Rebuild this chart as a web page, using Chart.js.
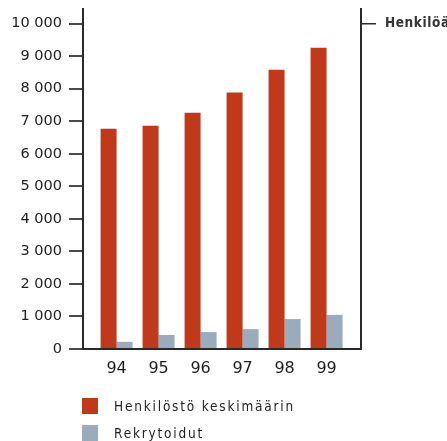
<!DOCTYPE html>
<html lang="fi">
<head>
<meta charset="utf-8">
<script src="https://cdn.jsdelivr.net/npm/chart.js@4/dist/chart.umd.min.js"></script>
<style>
  html, body { margin: 0; padding: 0; background: #fff; }
  #wrap { position: relative; width: 447px; height: 441px; overflow: hidden; }
  #chart { display: block; }
  #legend {
    position: absolute; left: 82px; top: 398px;
    font: 13.5px "DejaVu Sans Condensed", "DejaVu Sans", sans-serif;
    letter-spacing: 1.8px; color: #1e1e1e;
  }
  #legend .item { display: flex; align-items: center; height: 16px; margin-bottom: 11px; }
  #legend .swatch { width: 16px; height: 16px; margin-right: 16px; flex: none; }
</style>
</head>
<body>
<div id="wrap">
  <canvas id="chart" width="447" height="441"></canvas>
  <div id="legend"></div>
</div>
<script>
// Henkilöstö ja rekrytoinnit 1994–1999
const years = ["94", "95", "96", "97", "98", "99"];
const henkilostoKeskimaarin = [6770, 6860, 7260, 7880, 8580, 9260];
const rekrytoidut = [220, 430, 520, 610, 920, 1050];

const yTickValues = [0, 1000, 2000, 3000, 4000, 5000, 6000, 7000, 8000, 9000, 10000];
const yTickLabels = ["0", "1 000", "2 000", "3 000", "4 000", "5 000", "6 000", "7 000", "8 000", "9 000", "10 000"];
const unitTickValue = 10000;
const unitTickLabel = "Henkilöä";

const RED = "#c0391b";
const GREY = "#9aabbc";
const INK = "#1e1e1e";
const AXIS = "#2a2a2a";
const TICK = "#4a4a4a";

const Y_MAX = 10450;

const toPoints = (arr) => arr.map((v, i) => ({ x: i, y: v }));

// akselien koot kiinteiksi, ei lisätilaa tekstien puolikkaille
const fixSize = (dim, px) => (s) => {
  s[dim] = px;
  s.paddingTop = s.paddingBottom = s.paddingLeft = s.paddingRight = 0;
};

// kirjainväli oikean akselin yksikkötekstille
const spacedUnitLabel = {
  id: "spacedUnitLabel",
  afterLayout(chart) {
    const s = chart.scales.y2;
    if (!s || s.__spaced) return;
    const orig = s.drawLabels.bind(s);
    s.drawLabels = function (area) {
      const ctx = this.ctx;
      ctx.save();
      ctx.letterSpacing = "0.6px";
      orig(area);
      ctx.restore();
    };
    s.__spaced = true;
  },
};

const chart = new Chart(document.getElementById("chart"), {
  type: "bar",
  data: {
    datasets: [
      { label: "Henkilöstö keskimäärin", data: toPoints(henkilostoKeskimaarin), backgroundColor: RED, yAxisID: "y" },
      { label: "Rekrytoidut", data: toPoints(rekrytoidut), backgroundColor: GREY, yAxisID: "y" },
    ],
  },
  options: {
    responsive: false,
    animation: false,
    devicePixelRatio: 1,
    layout: { padding: { top: 9, left: 0, right: 0, bottom: 0 } },
    categoryPercentage: 32 / 42,
    barPercentage: 1,
    plugins: { legend: { display: false }, tooltip: { enabled: false } },
    scales: {
      x: {
        type: "linear",
        offset: false,
        min: -0.8,
        max: 5.82,
        afterBuildTicks: (s) => { s.ticks = years.map((_, i) => ({ value: i })); },
        afterFit: fixSize("height", 92),
        grid: { display: false, drawTicks: false },
        border: { display: true, color: AXIS, width: 2 },
        ticks: {
          padding: 10,
          color: INK,
          font: { family: "DejaVu Sans", size: 16 },
          callback: (v) => years[v],
        },
      },
      y: {
        position: "left",
        min: 0,
        max: Y_MAX,
        afterBuildTicks: (s) => { s.ticks = yTickValues.map((v) => ({ value: v })); },
        afterFit: fixSize("width", 83),
        grid: { drawOnChartArea: false, drawTicks: true, tickLength: 14, color: TICK, lineWidth: 2 },
        border: { display: true, color: AXIS, width: 2 },
        ticks: {
          padding: 7,
          color: INK,
          font: { family: "DejaVu Sans", size: 14.5 },
          callback: (v) => yTickLabels[yTickValues.indexOf(v)],
        },
      },
      y2: {
        position: "right",
        min: 0,
        max: Y_MAX,
        afterBuildTicks: (s) => { s.ticks = [{ value: unitTickValue }]; },
        afterFit: fixSize("width", 86),
        grid: { drawOnChartArea: false, drawTicks: true, tickLength: 15, color: AXIS, lineWidth: 1.5 },
        border: { display: true, color: AXIS, width: 2 },
        ticks: {
          padding: 9,
          color: "#333",
          font: { family: "DejaVu Sans Condensed", size: 13.5, weight: "bold" },
          callback: () => unitTickLabel,
        },
      },
    },
  },
  plugins: [spacedUnitLabel],
});

// selite datasarjoista
const legend = document.getElementById("legend");
chart.data.datasets.forEach((ds) => {
  const item = document.createElement("div");
  item.className = "item";
  const sw = document.createElement("span");
  sw.className = "swatch";
  sw.style.background = ds.backgroundColor;
  const txt = document.createElement("span");
  txt.textContent = ds.label;
  item.append(sw, txt);
  legend.append(item);
});
</script>
</body>
</html>
